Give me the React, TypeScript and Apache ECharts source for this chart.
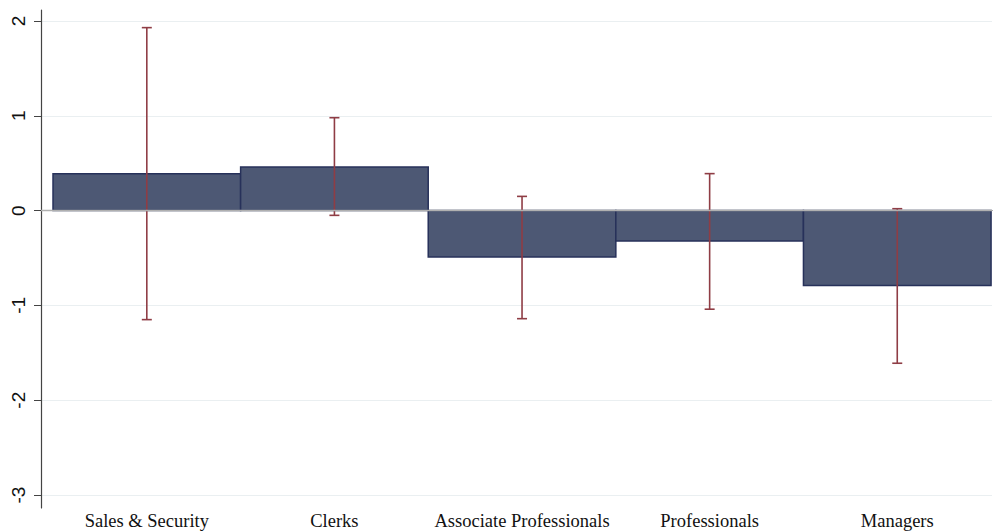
import React, { useEffect, useRef } from "react";
import * as echarts from "echarts";

const categories = ["Sales & Security", "Clerks", "Associate Professionals", "Professionals", "Managers"];
const values = [0.39, 0.46, -0.49, -0.32, -0.79];
const ciLow = [-1.15, -0.05, -1.14, -1.04, -1.61];
const ciHigh = [1.93, 0.98, 0.15, 0.39, 0.02];
const yTicks = [-3, -2, -1, 0, 1, 2];

export default function App() {
  const ref = useRef<HTMLDivElement>(null);
  useEffect(() => {
    const chart = echarts.init(ref.current!, null, { renderer: "svg" });
    const barData = values.map((v, i) => [i + 1, v]);
    const errData = values.map((_, i) => [i + 1, ciLow[i], ciHigh[i]]);
    chart.setOption({
      animation: false,
      backgroundColor: "#ffffff",
      grid: { left: 41, right: 4, top: 10, bottom: 24 },
      xAxis: {
        type: "value",
        min: 0.436,
        max: 5.505,
        axisLine: { show: true, lineStyle: { color: "#444", width: 1.2 } },
        axisTick: { show: false, customValues: [1, 2, 3, 4, 5] },
        splitLine: { show: false },
        axisLabel: {
          customValues: [1, 2, 3, 4, 5],
          formatter: (v: number) => categories[Math.round(v) - 1] ?? "",
          fontFamily: "Liberation Serif, Times New Roman, serif",
          fontSize: 18.5,
          color: "#111",
          margin: 3,
        },
      },
      yAxis: {
        type: "value",
        min: -3.137,
        max: 2.116,
        axisLine: { show: true, lineStyle: { color: "#444", width: 1.2 } },
        axisTick: { show: true, length: 7, customValues: yTicks, lineStyle: { color: "#444" } },
        splitLine: { show: true, lineStyle: { color: "#eaeff1", width: 1.2 } },
        axisLabel: {
          customValues: yTicks,
          rotate: 90,
          fontFamily: "Liberation Sans, Arial, sans-serif",
          fontSize: 19,
          color: "#111",
          margin: 13,
        },
      },
      series: [
        {
          type: "custom",
          name: "bars",
          data: barData,
          z: 2,
          renderItem: (params: any, api: any) => {
            const x = api.value(0);
            const v = api.value(1);
            const p1 = api.coord([x - 0.5, v]);
            const p2 = api.coord([x + 0.5, 0]);
            return {
              type: "rect",
              shape: {
                x: p1[0],
                y: Math.min(p1[1], p2[1]),
                width: p2[0] - p1[0],
                height: Math.abs(p2[1] - p1[1]),
              },
              style: { fill: "#4d5874", stroke: "#27315a", lineWidth: 1.5 },
            };
          },
        },
        {
          type: "line",
          data: [],
          z: 1,
          markLine: {
            silent: true,
            symbol: "none",
            label: { show: false },
            lineStyle: { color: "#b0b0b0", width: 1.3, type: "solid" },
            data: [{ yAxis: 0 }],
          },
        },
        {
          type: "custom",
          name: "ci",
          data: errData,
          z: 4,
          renderItem: (params: any, api: any) => {
            const x = api.value(0);
            const lo = api.coord([x, api.value(1)]);
            const hi = api.coord([x, api.value(2)]);
            const cap = 5;
            const style = { stroke: "#8f3d45", lineWidth: 1.6 };
            return {
              type: "group",
              children: [
                { type: "line", shape: { x1: lo[0], y1: lo[1], x2: hi[0], y2: hi[1] }, style },
                { type: "line", shape: { x1: lo[0] - cap, y1: lo[1], x2: lo[0] + cap, y2: lo[1] }, style },
                { type: "line", shape: { x1: hi[0] - cap, y1: hi[1], x2: hi[0] + cap, y2: hi[1] }, style },
              ],
            };
          },
        },
      ],
    });
    return () => chart.dispose();
  }, []);
  return (
    <div
      ref={ref}
      style={{ position: "fixed", left: 0, top: 0, width: 996, height: 532 }}
    />
  );
}
